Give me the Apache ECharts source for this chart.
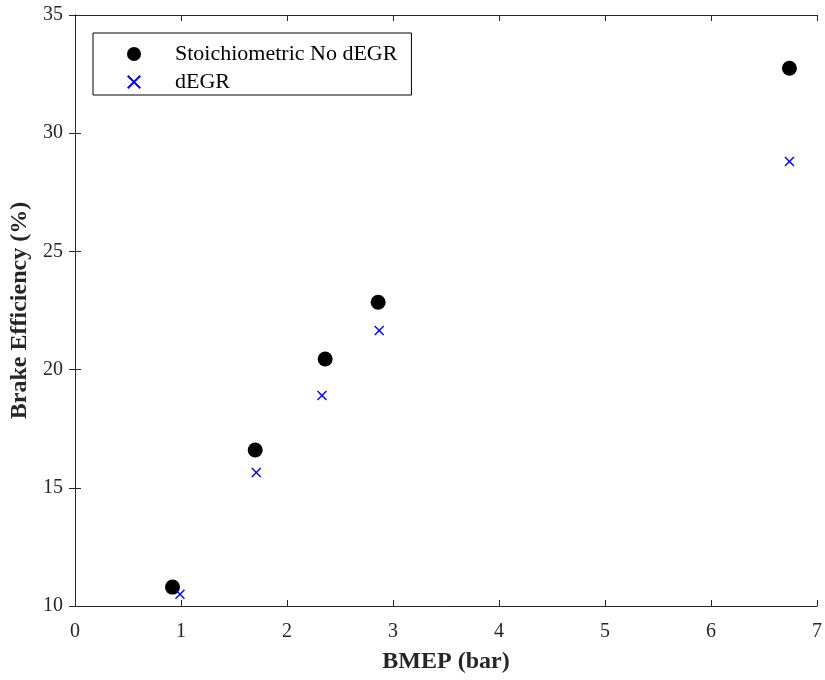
<!DOCTYPE html>
<html>
<head>
<meta charset="utf-8">
<script src="https://cdn.jsdelivr.net/npm/echarts@6/dist/echarts.min.js"></script>
<style>
  html, body { margin: 0; padding: 0; background: #fff; }
  #chart { width: 825px; height: 680px; }
</style>
</head>
<body>
<div id="chart"></div>
<script>
// data
const bmepStoich = [0.92, 1.70, 2.36, 2.86, 6.74];
const effStoich = [10.8, 16.6, 20.45, 22.85, 32.75];
const bmepDegr = [0.99, 1.71, 2.33, 2.87, 6.74];
const effDegr = [10.5, 15.65, 18.9, 21.65, 28.8];
const seriesNames = ['Stoichiometric No dEGR', 'dEGR'];

const font = '"Liberation Serif", "Times New Roman", serif';
const crossPath = 'path://M0,1 L1,0 L5,4 L9,0 L10,1 L6,5 L10,9 L9,10 L5,6 L1,10 L0,9 L4,5 Z';

const chart = echarts.init(document.getElementById('chart'));

const axisLine = { show: true, lineStyle: { color: '#262626', width: 1 } };
const tickIn = { show: true, inside: true, length: 6, lineStyle: { color: '#262626' } };
const titleStyle = { fontFamily: font, fontSize: 24, fontWeight: 'bold', color: '#262626' };

const option = {
  backgroundColor: '#fff',
  animation: false,
  grid: { left: 75, right: 5, top: 15, bottom: 74 },
  legend: {
    left: 93,
    top: 33,
    orient: 'vertical',
    backgroundColor: '#fff',
    borderColor: '#000',
    borderWidth: 1,
    borderRadius: 0,
    padding: [10, 14, 2, 34],
    itemGap: 6,
    itemWidth: 14,
    itemHeight: 14,
    textStyle: {
      fontFamily: font, fontSize: 22, lineHeight: 20, color: '#000',
      padding: [0, 0, 0, 29]
    },
    data: [
      { name: seriesNames[0], icon: 'circle', itemStyle: { color: '#000', opacity: 1 } },
      { name: seriesNames[1], icon: crossPath, itemStyle: { color: '#0000ff', opacity: 1 } }
    ]
  },
  xAxis: [
    {
      type: 'value', min: 0, max: 7, interval: 1,
      name: 'BMEP (bar)', nameLocation: 'middle', nameGap: 44,
      nameTextStyle: titleStyle,
      axisLine: axisLine, axisTick: tickIn,
      axisLabel: { fontFamily: font, fontSize: 20, color: '#262626', margin: 16 },
      splitLine: { show: false }
    },
    {
      type: 'value', position: 'top', min: 0, max: 7, interval: 1,
      axisLine: axisLine, axisTick: tickIn,
      axisLabel: { show: false }, splitLine: { show: false }
    }
  ],
  yAxis: [
    {
      type: 'value', min: 10, max: 35, interval: 5,
      name: 'Brake Efficiency (%)', nameLocation: 'middle', nameGap: 40,
      nameTextStyle: titleStyle,
      axisLine: axisLine, axisTick: tickIn,
      axisLabel: { fontFamily: font, fontSize: 20, color: '#262626', margin: 12 },
      splitLine: { show: false }
    },
    {
      type: 'value', position: 'right', min: 10, max: 35, interval: 5,
      axisLine: axisLine, axisTick: tickIn,
      axisLabel: { show: false }, splitLine: { show: false }
    }
  ],
  series: [
    {
      name: seriesNames[0],
      type: 'scatter',
      symbol: 'circle',
      symbolSize: 15,
      itemStyle: { color: '#000', opacity: 1 },
      data: bmepStoich.map((x, i) => [x, effStoich[i]])
    },
    {
      name: seriesNames[1],
      type: 'scatter',
      symbol: crossPath,
      symbolSize: 10,
      itemStyle: { color: '#0000ff', opacity: 1 },
      data: bmepDegr.map((x, i) => [x, effDegr[i]])
    }
  ]
};

chart.setOption(option);
</script>
</body>
</html>
